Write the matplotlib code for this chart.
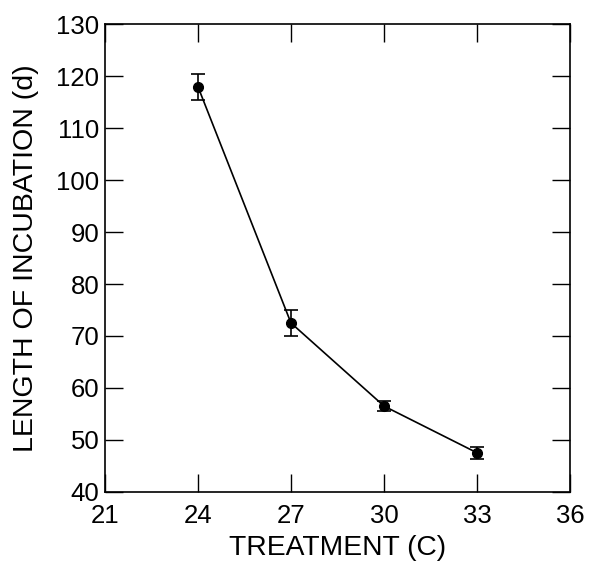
import matplotlib
matplotlib.use('Agg')
import matplotlib.pyplot as plt

treatment = [24, 27, 30, 33]
incubation = [118.0, 72.5, 56.5, 47.5]
err = [2.5, 2.5, 1.0, 1.2]

plt.rcParams['font.family'] = ['Liberation Sans', 'DejaVu Sans']

fig = plt.figure(figsize=(5.89, 5.64), dpi=100)
ax = fig.add_axes([0.178, 0.128, 0.79, 0.829])

ax.errorbar(treatment, incubation, yerr=err, fmt='-o', color='black',
            ms=7, lw=1.2, capsize=5, elinewidth=1.2, capthick=1.2)

ax.set_xlim(21, 36)
ax.set_ylim(40, 130)
ax.set_xticks(range(21, 37, 3))
ax.set_yticks(range(40, 131, 10))
ax.tick_params(direction='in', top=True, right=True, length=13, width=1,
               labelsize=18.5)
ax.tick_params(axis='x', pad=9)
ax.tick_params(axis='y', pad=4)
for s in ax.spines.values():
    s.set_linewidth(1.2)

ax.set_xlabel('TREATMENT (C)', fontsize=20.3, labelpad=5)
ax.set_ylabel('LENGTH OF INCUBATION (d)', fontsize=20.5, labelpad=12)

fig.savefig('out.png', dpi=100)
